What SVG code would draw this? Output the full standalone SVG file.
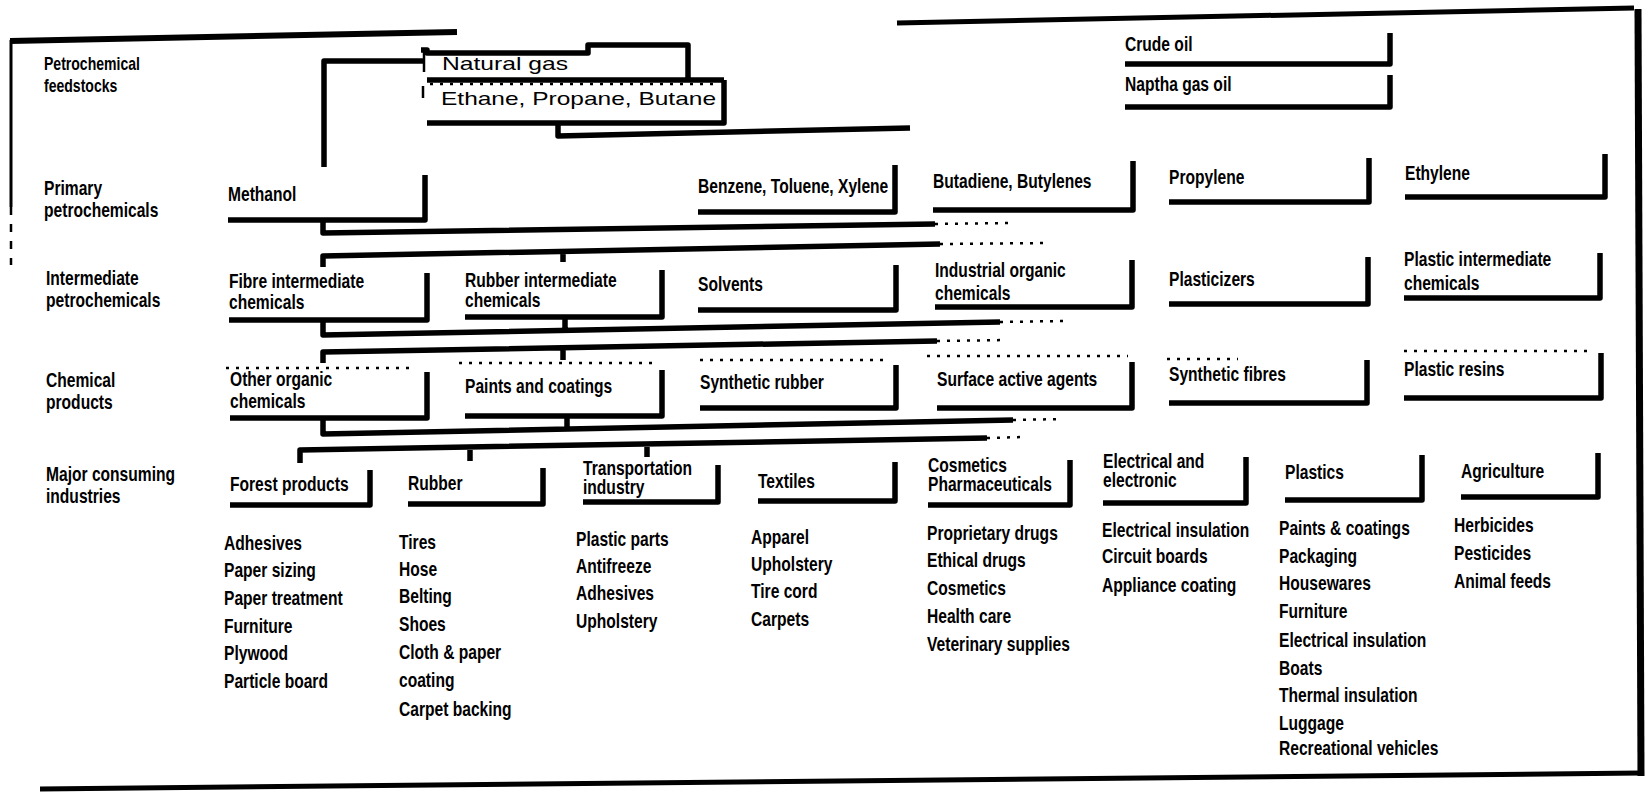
<svg xmlns="http://www.w3.org/2000/svg" width="1651" height="792" viewBox="0 0 1651 792">
<style>
.t{font-family:"Liberation Sans",Arial,sans-serif;font-size:20px;font-weight:bold;fill:#000}
.lb{font-size:18px}
.w{font-family:"Liberation Sans",Arial,sans-serif;font-size:19px;fill:#000}
.bx{fill:none;stroke:#000;stroke-width:5.5;stroke-linejoin:round}
.bus{fill:none;stroke:#000;stroke-width:5.5;stroke-linejoin:round}
.thin{fill:none;stroke:#000;stroke-width:2.5}
.dots{fill:none;stroke:#000;stroke-width:2.5;stroke-dasharray:3 7}
.frame{fill:none;stroke:#000;stroke-linecap:butt}
</style>
<rect width="1651" height="792" fill="#fff"/>
<g id="frame">
<path class="frame" d="M10,41 L457,32" stroke-width="6"/>
<path class="frame" d="M11,40 V207" stroke-width="3"/>
<path class="frame" d="M11,207 V265" stroke-width="2.5" stroke-dasharray="8 9"/>
<path class="frame" d="M897,23 L1634,8" stroke-width="5"/>
<path class="frame" d="M1638,9 L1641,776" stroke-width="7"/>
<path class="frame" d="M40,789 L1641,773" stroke-width="5"/>
</g>
<g id="row-labels">
<text class="t lb" transform="translate(44 70) scale(.78 1)">Petrochemical</text>
<text class="t lb" transform="translate(44 92) scale(.78 1)">feedstocks</text>
<text class="t" transform="translate(44 195) scale(.78 1)">Primary</text>
<text class="t" transform="translate(44 217) scale(.78 1)">petrochemicals</text>
<text class="t" transform="translate(46 285) scale(.78 1)">Intermediate</text>
<text class="t" transform="translate(46 307) scale(.78 1)">petrochemicals</text>
<text class="t" transform="translate(46 387) scale(.78 1)">Chemical</text>
<text class="t" transform="translate(46 409) scale(.78 1)">products</text>
<text class="t" transform="translate(46 481) scale(.78 1)">Major consuming</text>
<text class="t" transform="translate(46 503) scale(.78 1)">industries</text>
</g>
<g id="connectors">
<path class="bus" d="M324,167 V61 H424"/>
<path class="bus" d="M558,123 V136 L910,128"/>
<path class="bus" d="M323,220 V233 L935,224"/>
<path class="dots" d="M935,224 L1013,223"/>
<path class="bus" d="M323,267 V256 L940,244 M563,252 V262"/>
<path class="dots" d="M940,244 L1047,243"/>
<path class="bus" d="M323,320 V335 L1000,322 M565,317 V333"/>
<path class="dots" d="M1000,322 L1063,321"/>
<path class="bus" d="M323,363 V352 L937,341 M563,350 V360"/>
<path class="dots" d="M937,341 L1007,340"/>
<path class="bus" d="M323,418 V434 L1013,420 M567,416 V431"/>
<path class="dots" d="M1013,420 L1063,419"/>
<path class="bus" d="M300,463 V450 L987,438 M470,450 V461 M647,447 V457"/>
<path class="dots" d="M987,438 L1023,437"/>
</g>
<g id="natural-gas">
<path class="bx" d="M421,50 H427 V53 H588 V45 H688 V81"/>
<path class="thin" d="M424,50 V72"/>
<path class="bx" d="M427,80 H724"/>
<path class="dots" d="M430,84 H715" stroke-width="1.5"/>
<text class="w" x="442" y="70" textLength="126" lengthAdjust="spacingAndGlyphs">Natural gas</text>
</g>
<g id="ethane-propane-butane">
<path class="thin" d="M423,86 V98"/>
<path class="bx" d="M724,80 V123 H427"/>
<text class="w" x="441" y="105" textLength="275" lengthAdjust="spacingAndGlyphs">Ethane, Propane, Butane</text>
</g>
<g id="crude-oil"><text class="t" transform="translate(1125 51) scale(.78 1)">Crude oil</text><path class="bx" d="M1125,64 H1390 V33"/></g>
<g id="naptha-gas-oil"><text class="t" transform="translate(1125 91) scale(.78 1)">Naptha gas oil</text><path class="bx" d="M1125,107 H1390 V75"/></g>
<g id="methanol"><text class="t" transform="translate(228 201) scale(.78 1)">Methanol</text><path class="bx" d="M228,220 H425 V175"/></g>
<g id="btx"><text class="t" transform="translate(698 193) scale(.78 1)">Benzene, Toluene, Xylene</text><path class="bx" d="M698,212 H895 V165"/></g>
<g id="butadiene"><text class="t" transform="translate(933 188) scale(.78 1)">Butadiene, Butylenes</text><path class="bx" d="M933,210 H1133 V161"/></g>
<g id="propylene"><text class="t" transform="translate(1169 184) scale(.78 1)">Propylene</text><path class="bx" d="M1169,202 H1369 V158"/></g>
<g id="ethylene"><text class="t" transform="translate(1405 180) scale(.78 1)">Ethylene</text><path class="bx" d="M1405,197 H1605 V154"/></g>
<g id="fibre-intermediate"><text class="t" transform="translate(229 288) scale(.78 1)">Fibre intermediate</text><text class="t" transform="translate(229 309) scale(.78 1)">chemicals</text><path class="bx" d="M229,320 H427 V273"/></g>
<g id="rubber-intermediate"><text class="t" transform="translate(465 287) scale(.78 1)">Rubber intermediate</text><text class="t" transform="translate(465 307) scale(.78 1)">chemicals</text><path class="bx" d="M465,317 H662 V270"/></g>
<g id="solvents"><text class="t" transform="translate(698 291) scale(.78 1)">Solvents</text><path class="bx" d="M698,310 H896 V265"/></g>
<g id="industrial-organic"><text class="t" transform="translate(935 277) scale(.78 1)">Industrial organic</text><text class="t" transform="translate(935 300) scale(.78 1)">chemicals</text><path class="bx" d="M935,307 H1132 V260"/></g>
<g id="plasticizers"><text class="t" transform="translate(1169 286) scale(.78 1)">Plasticizers</text><path class="bx" d="M1169,304 H1368 V257"/></g>
<g id="plastic-intermediate"><text class="t" transform="translate(1404 266) scale(.78 1)">Plastic intermediate</text><text class="t" transform="translate(1404 290) scale(.78 1)">chemicals</text><path class="bx" d="M1404,298 H1600 V253"/></g>
<g id="other-organic"><path class="dots" d="M226,368 H415" stroke-width="3.5"/><text class="t" transform="translate(230 386) scale(.78 1)">Other organic</text><text class="t" transform="translate(230 408) scale(.78 1)">chemicals</text><path class="bx" d="M230,418 H427 V372"/></g>
<g id="paints"><path class="dots" d="M459,363 H655"/><text class="t" transform="translate(465 393) scale(.78 1)">Paints and coatings</text><path class="bx" d="M465,416 H662 V370"/></g>
<g id="synthetic-rubber"><path class="dots" d="M700,360 H890"/><text class="t" transform="translate(700 389) scale(.78 1)">Synthetic rubber</text><path class="bx" d="M700,408 H896 V365"/></g>
<g id="surface-active"><path class="dots" d="M927,356 H1128"/><text class="t" transform="translate(937 386) scale(.78 1)">Surface active agents</text><path class="bx" d="M937,408 H1132 V362"/></g>
<g id="synthetic-fibres"><path class="dots" d="M1167,359 H1238"/><text class="t" transform="translate(1169 381) scale(.78 1)">Synthetic fibres</text><path class="bx" d="M1169,403 H1367 V360"/></g>
<g id="plastic-resins"><path class="dots" d="M1404,351 H1590"/><text class="t" transform="translate(1404 376) scale(.78 1)">Plastic resins</text><path class="bx" d="M1404,398 H1601 V353"/></g>
<g id="forest-products"><text class="t" transform="translate(230 491) scale(.78 1)">Forest products</text><path class="bx" d="M230,505 H370 V470"/>
<text class="t" transform="translate(224 550) scale(.78 1)">Adhesives</text><text class="t" transform="translate(224 577) scale(.78 1)">Paper sizing</text><text class="t" transform="translate(224 605) scale(.78 1)">Paper treatment</text><text class="t" transform="translate(224 633) scale(.78 1)">Furniture</text><text class="t" transform="translate(224 660) scale(.78 1)">Plywood</text><text class="t" transform="translate(224 688) scale(.78 1)">Particle board</text></g>
<g id="rubber"><text class="t" transform="translate(408 490) scale(.78 1)">Rubber</text><path class="bx" d="M408,504 H543 V468"/>
<text class="t" transform="translate(399 549) scale(.78 1)">Tires</text><text class="t" transform="translate(399 576) scale(.78 1)">Hose</text><text class="t" transform="translate(399 603) scale(.78 1)">Belting</text><text class="t" transform="translate(399 631) scale(.78 1)">Shoes</text><text class="t" transform="translate(399 659) scale(.78 1)">Cloth &amp; paper</text><text class="t" transform="translate(399 687) scale(.78 1)">coating</text><text class="t" transform="translate(399 716) scale(.78 1)">Carpet backing</text></g>
<g id="transportation"><text class="t" transform="translate(583 475) scale(.78 1)">Transportation</text><text class="t" transform="translate(583 494) scale(.78 1)">industry</text><path class="bx" d="M583,502 H718 V465"/>
<text class="t" transform="translate(576 546) scale(.78 1)">Plastic parts</text><text class="t" transform="translate(576 573) scale(.78 1)">Antifreeze</text><text class="t" transform="translate(576 600) scale(.78 1)">Adhesives</text><text class="t" transform="translate(576 628) scale(.78 1)">Upholstery</text></g>
<g id="textiles"><text class="t" transform="translate(758 488) scale(.78 1)">Textiles</text><path class="bx" d="M758,501 H895 V462"/>
<text class="t" transform="translate(751 544) scale(.78 1)">Apparel</text><text class="t" transform="translate(751 571) scale(.78 1)">Upholstery</text><text class="t" transform="translate(751 598) scale(.78 1)">Tire cord</text><text class="t" transform="translate(751 626) scale(.78 1)">Carpets</text></g>
<g id="cosmetics"><text class="t" transform="translate(928 472) scale(.78 1)">Cosmetics</text><text class="t" transform="translate(928 491) scale(.78 1)">Pharmaceuticals</text><path class="bx" d="M928,505 H1070 V460"/>
<text class="t" transform="translate(927 540) scale(.78 1)">Proprietary drugs</text><text class="t" transform="translate(927 567) scale(.78 1)">Ethical drugs</text><text class="t" transform="translate(927 595) scale(.78 1)">Cosmetics</text><text class="t" transform="translate(927 623) scale(.78 1)">Health care</text><text class="t" transform="translate(927 651) scale(.78 1)">Veterinary supplies</text></g>
<g id="electrical"><text class="t" transform="translate(1103 468) scale(.78 1)">Electrical and</text><text class="t" transform="translate(1103 487) scale(.78 1)">electronic</text><path class="bx" d="M1103,503 H1246 V457"/>
<text class="t" transform="translate(1102 537) scale(.78 1)">Electrical insulation</text><text class="t" transform="translate(1102 563) scale(.78 1)">Circuit boards</text><text class="t" transform="translate(1102 592) scale(.78 1)">Appliance coating</text></g>
<g id="plastics"><text class="t" transform="translate(1285 479) scale(.78 1)">Plastics</text><path class="bx" d="M1285,500 H1422 V455"/>
<text class="t" transform="translate(1279 535) scale(.78 1)">Paints &amp; coatings</text><text class="t" transform="translate(1279 563) scale(.78 1)">Packaging</text><text class="t" transform="translate(1279 590) scale(.78 1)">Housewares</text><text class="t" transform="translate(1279 618) scale(.78 1)">Furniture</text><text class="t" transform="translate(1279 647) scale(.78 1)">Electrical insulation</text><text class="t" transform="translate(1279 675) scale(.78 1)">Boats</text><text class="t" transform="translate(1279 702) scale(.78 1)">Thermal insulation</text><text class="t" transform="translate(1279 730) scale(.78 1)">Luggage</text><text class="t" transform="translate(1279 755) scale(.78 1)">Recreational vehicles</text></g>
<g id="agriculture"><text class="t" transform="translate(1461 478) scale(.78 1)">Agriculture</text><path class="bx" d="M1461,497 H1598 V453"/>
<text class="t" transform="translate(1454 532) scale(.78 1)">Herbicides</text><text class="t" transform="translate(1454 560) scale(.78 1)">Pesticides</text><text class="t" transform="translate(1454 588) scale(.78 1)">Animal feeds</text></g>
</svg>
